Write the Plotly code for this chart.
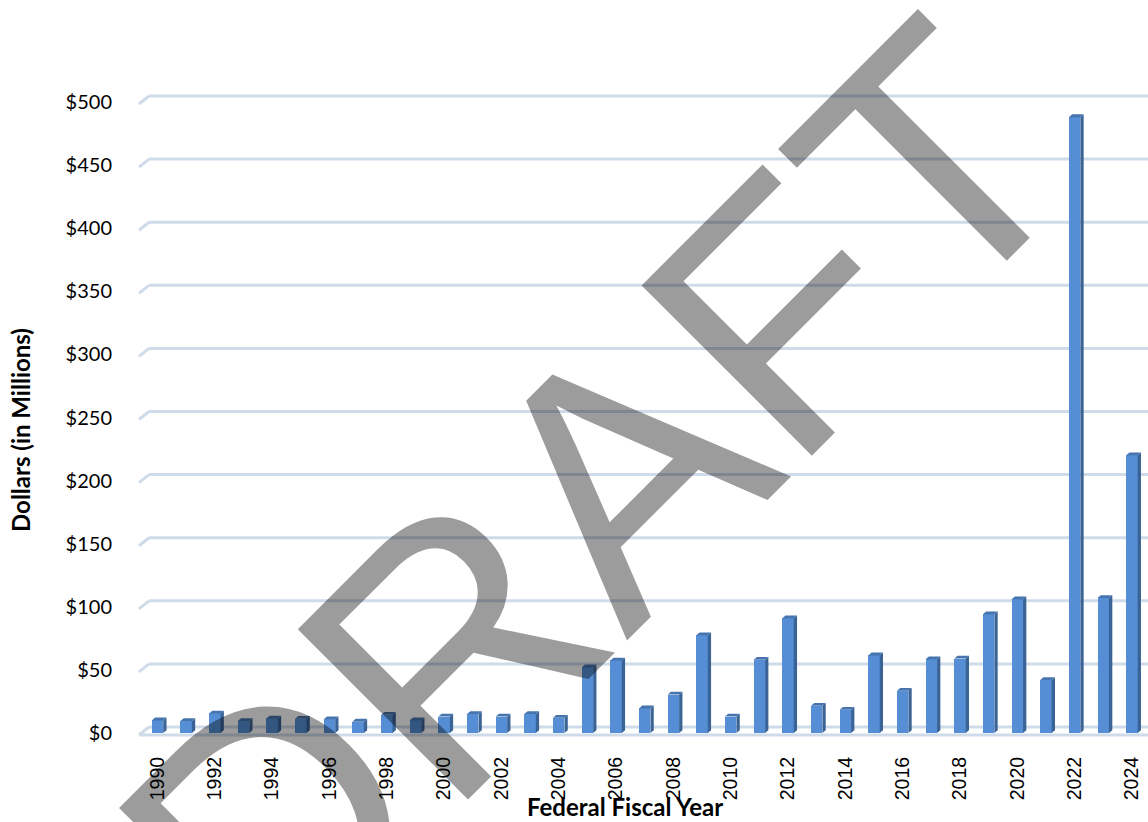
import plotly.graph_objects as go

# Federal fiscal years and annual dollars (in millions)
years = list(range(1990, 2025))
dollars = [10, 9.5, 15.5, 9.5, 11.5, 11.3, 10.8, 9, 14.5, 10,
           13, 15, 13, 15, 12, 52, 57.5, 19.5, 30.5, 77.5,
           13, 58, 91, 21.5, 18.5, 61.5, 33.5, 58.5, 59, 94,
           106, 42, 488, 107, 220]

tick_years = list(range(1990, 2025, 2))
tick_year_labels = [str(y) for y in tick_years]
y_ticks = list(range(0, 501, 50))
y_tick_labels = ["$" + str(v) for v in y_ticks]

# ---- geometry / styling of the pseudo-3D bars ----
BAR_W = 0.40      # front face width (x units)
DEPTH_X = 0.115   # side face depth (x units)
DEPTH_Y = 2.2     # top face rise (y units)
WALL_Y = 4.75     # back wall offset of gridlines (y units)
FRONT_Y = -1.6    # front edge of floor (y units)

FRONT = "#558ED5"
SIDE = "#3A6396"
TOP = "#4674AE"
GRID = "#D0DBEA"

W, H = 1148, 822
ML, MR, MT, MB = 139, 0, 20, 77
PX_PER_YEAR = 28.66
X0_PX = 157.5 - ML  # pixel offset of first bar inside the plot area
x_lo = years[0] - X0_PX / PX_PER_YEAR
x_hi = x_lo + (W - ML - MR) / PX_PER_YEAR
PX_PER_UNIT = 1.262
base_px = 733 - MT  # pixel of zero inside the plot area
plot_w = W - ML - MR
plot_h = H - MT - MB
y_hi = base_px / PX_PER_UNIT
y_lo = -(plot_h - base_px) / PX_PER_UNIT

fig = go.Figure()

# front faces
fig.add_trace(go.Bar(x=years, y=dollars, width=BAR_W,
                     marker=dict(color=FRONT, line=dict(width=0)),
                     hoverinfo="x+y", showlegend=False))

# side faces
sx, sy = [], []
for x, v in zip(years, dollars):
    r = x + BAR_W / 2
    sx += [r, r + DEPTH_X, r + DEPTH_X, r, r, None]
    sy += [0, DEPTH_Y, v + DEPTH_Y, v, 0, None]
fig.add_trace(go.Scatter(x=sx, y=sy, mode="lines", fill="toself",
                         fillcolor=SIDE, line=dict(width=0, color=SIDE),
                         hoverinfo="skip", showlegend=False))

# top faces
tx, ty = [], []
for x, v in zip(years, dollars):
    l, r = x - BAR_W / 2, x + BAR_W / 2
    tx += [l, r, r + DEPTH_X, l + DEPTH_X, l, None]
    ty += [v, v, v + DEPTH_Y, v + DEPTH_Y, v, None]
fig.add_trace(go.Scatter(x=tx, y=ty, mode="lines", fill="toself",
                         fillcolor=TOP, line=dict(width=0, color=TOP),
                         hoverinfo="skip", showlegend=False))

# back-wall gridlines with their slanted left edge
slant_px = 10 / plot_w
shapes = []
for v in y_ticks:
    shapes.append(dict(type="line", xref="paper", yref="y", layer="below",
                       x0=0, y0=v + FRONT_Y, x1=slant_px, y1=v + WALL_Y,
                       line=dict(color=GRID, width=3)))
    shapes.append(dict(type="line", xref="paper", yref="y", layer="below",
                       x0=slant_px, y0=v + WALL_Y, x1=1, y1=v + WALL_Y,
                       line=dict(color=GRID, width=3)))
# front edge of the floor
shapes.append(dict(type="line", xref="paper", yref="y", layer="below",
                   x0=0, y0=FRONT_Y, x1=1, y1=FRONT_Y,
                   line=dict(color=GRID, width=3)))

annotations = [
    dict(text="<b>Federal Fiscal Year</b>", xref="paper", yref="paper",
         x=(625 - ML) / plot_w, y=-(806 - (H - MB)) / plot_h,
         showarrow=False, xanchor="center", yanchor="middle",
         font=dict(family="Lato", size=24, color="#000000")),
    dict(text="<b>Dollars (in Millions)</b>", xref="paper", yref="paper",
         x=(20 - ML) / plot_w, y=(H - MB - 430) / plot_h,
         showarrow=False, xanchor="center", yanchor="middle", textangle=-90,
         font=dict(family="Lato", size=24, color="#000000")),
    # watermark
    dict(text="DRAFT", xref="paper", yref="paper",
         x=(595 - ML) / plot_w, y=(H - MB - 500) / plot_h,
         showarrow=False, xanchor="center", yanchor="middle", textangle=-45,
         font=dict(family="Liberation Sans", size=350,
                   color="rgba(0,0,0,0.39)")),
]

fig.update_layout(
    width=W, height=H,
    margin=dict(l=ML, r=MR, t=MT, b=MB),
    paper_bgcolor="white", plot_bgcolor="white",
    bargap=0,
    shapes=shapes, annotations=annotations,
    xaxis=dict(range=[x_lo, x_hi], tickmode="array", tickvals=tick_years,
               ticktext=tick_year_labels, tickangle=-90, showgrid=False,
               zeroline=False, showline=False, ticks="",
               ticklabelstandoff=7,
               tickfont=dict(family="Liberation Sans", size=19.5,
                             color="#000000")),
    yaxis=dict(range=[y_lo, y_hi], tickmode="array", tickvals=y_ticks,
               ticktext=y_tick_labels, showgrid=False, zeroline=False,
               showline=False, ticks="", ticklabelstandoff=26,
               tickfont=dict(family="Lato", size=20, color="#000000")),
)

fig.write_html("out.html")
